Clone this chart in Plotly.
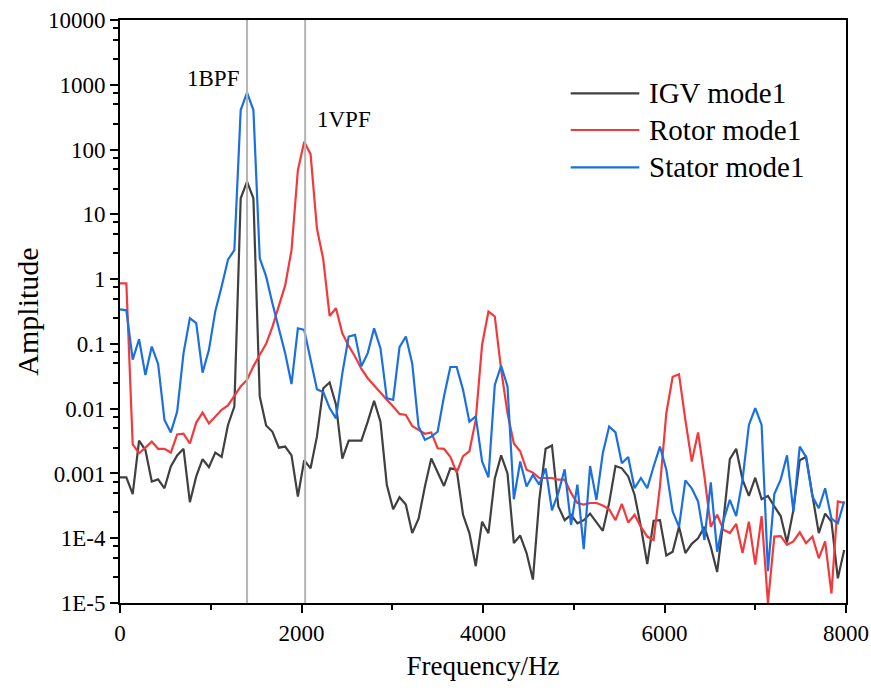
import plotly.graph_objects as go

# Frequency grid (Hz)
freq = [0, 70, 140, 210, 280, 350, 420, 490, 560, 630, 700, 770, 840, 910, 980,
        1050, 1120, 1190, 1260, 1330, 1400, 1470, 1540, 1610, 1680, 1750, 1820, 1890, 1960, 2030,
        2100, 2170, 2240, 2310, 2380, 2450, 2520, 2590, 2660, 2730, 2800, 2870, 2940, 3010, 3080,
        3150, 3220, 3290, 3360, 3430, 3500, 3570, 3640, 3710, 3780, 3850, 3920, 3990, 4060, 4130,
        4200, 4270, 4340, 4410, 4480, 4550, 4620, 4690, 4760, 4830, 4900, 4970, 5040, 5110, 5180,
        5250, 5320, 5390, 5460, 5530, 5600, 5670, 5740, 5810, 5880, 5950, 6020, 6090, 6160, 6230,
        6300, 6370, 6440, 6510, 6580, 6650, 6720, 6790, 6860, 6930, 7000, 7070, 7140, 7210, 7280,
        7350, 7420, 7490, 7560, 7630, 7700, 7770, 7840, 7910, 7980]

igv_mode1 = [8.7e-4, 8.7e-4, 4.8e-4, 3.2e-3, 2.3e-3, 7.5e-4, 8.1e-4, 5.9e-4, 1.28e-3, 1.9e-3,
             2.4e-3, 3.6e-4, 9e-4, 1.66e-3, 1.25e-3, 2.1e-3, 1.8e-3, 5.6e-3, 0.0108, 17.7,
             32, 17.7, 0.0154, 5.5e-3, 4.4e-3, 2.5e-3, 2.6e-3, 1.9e-3, 4.4e-4, 1.6e-3,
             1.2e-3, 3.7e-3, 0.0207, 0.0253, 0.0115, 1.7e-3, 3.2e-3, 3.2e-3, 3.2e-3, 6.3e-3,
             0.0132, 6.3e-3, 6.7e-4, 2.8e-4, 4.3e-4, 3.3e-4, 1.2e-4, 2e-4, 6.3e-4, 1.7e-3,
             1.07e-3, 6.4e-4, 1.2e-3, 1.14e-3, 2.3e-4, 1.2e-4, 3.7e-5, 1.8e-4, 1.2e-4, 8.4e-4,
             1.9e-3, 1e-3, 8.4e-5, 1.1e-4, 5.9e-5, 2.3e-5, 3.9e-4, 2.4e-3, 2.7e-3, 3.1e-4,
             1.9e-4, 2.3e-4, 1.7e-4, 1.9e-4, 2.4e-4, 1.8e-4, 1.3e-4, 3.5e-4, 1.3e-3, 1.2e-3,
             9e-4, 4.7e-4, 1.5e-4, 4e-5, 1.86e-4, 1.9e-4, 5.4e-5, 6.2e-5, 1.5e-4, 5.9e-5,
             8.2e-5, 1e-4, 1.5e-4, 7.4e-5, 3e-5, 1.9e-4, 1.66e-3, 2.4e-3, 8e-4, 4.5e-4,
             8.6e-4, 4e-4, 4.5e-4, 3.1e-4, 2.2e-4, 8.6e-5, 2.7e-4, 1.6e-3, 1.8e-3, 4.6e-4,
             1.2e-4, 2.4e-4, 1.8e-4, 2.4e-5, 6.6e-5]

rotor_mode1 = [0.86, 0.86, 2.8e-3, 2.05e-3, 2.5e-3, 3.1e-3, 2.4e-3, 2.4e-3, 2.1e-3, 4e-3,
               4.1e-3, 2.9e-3, 6.1e-3, 8.7e-3, 5.9e-3, 7.6e-3, 9.6e-3, 0.0112, 0.0154, 0.022,
               0.028, 0.045, 0.068, 0.1, 0.185, 0.38, 0.8, 2.8, 48, 132,
               85, 6.1, 2.0, 0.27, 0.355, 0.146, 0.093, 0.064, 0.041, 0.0295,
               0.0228, 0.0173, 0.0137, 0.0108, 8.3e-3, 8e-3, 5.4e-3, 4.7e-3, 4.1e-3, 4.3e-3,
               2.45e-3, 2.4e-3, 1.8e-3, 1.03e-3, 1.85e-3, 2.2e-3, 6.7e-3, 0.097, 0.316, 0.265,
               0.04, 8.5e-3, 2.9e-3, 2.2e-3, 1.14e-3, 1.03e-3, 8.5e-4, 8.5e-4, 8.5e-4, 8e-4,
               8e-4, 5e-4, 3.5e-4, 3.3e-4, 3.5e-4, 3.5e-4, 3.2e-4, 2.8e-4, 1.9e-4, 3.4e-4,
               1.75e-4, 2.3e-4, 1.5e-4, 1.06e-4, 9.4e-5, 6.3e-4, 8.5e-3, 0.031, 0.034, 6.7e-3,
               1.53e-3, 4.3e-3, 9e-4, 1.5e-4, 2.3e-4, 1.35e-4, 1.2e-4, 1.67e-4, 5.9e-5, 1.8e-4,
               3.9e-5, 2.2e-4, 1e-5, 1.06e-4, 1.08e-4, 7.9e-5, 8.9e-5, 1.23e-4, 8.4e-5, 1.06e-4,
               4.9e-5, 8.9e-5, 1.4e-5, 3.7e-4, 3.5e-4]

stator_mode1 = [0.34, 0.33, 0.057, 0.118, 0.033, 0.091, 0.049, 6.7e-3, 4.3e-3, 9e-3,
                0.072, 0.25, 0.21, 0.036, 0.081, 0.32, 0.77, 2.0, 2.8, 408,
                755, 408, 2.1, 1.1, 0.42, 0.17, 0.072, 0.024, 0.174, 0.164,
                0.057, 0.02, 0.018, 0.0102, 7.1e-3, 0.035, 0.13, 0.138, 0.045, 0.072,
                0.174, 0.086, 0.0145, 0.0137, 0.089, 0.13, 0.05, 5.3e-3, 3.3e-3, 3.7e-3,
                4.4e-3, 0.0154, 0.044, 0.044, 0.0195, 6.3e-3, 7.6e-3, 1.53e-3, 8.7e-4, 0.0233,
                0.046, 0.022, 4e-4, 1.53e-3, 6.3e-4, 9.5e-4, 6.7e-4, 1.2e-3, 2.7e-4, 5e-4,
                1.16e-3, 1.6e-4, 6.7e-4, 6.8e-5, 1.3e-3, 3.9e-4, 2.05e-3, 5.3e-3, 4.3e-3, 1.44e-3,
                1.8e-3, 5.9e-4, 8.5e-4, 5.9e-4, 1.28e-3, 2.6e-3, 1.14e-3, 2.6e-4, 1.5e-4, 7.8e-4,
                5.9e-4, 3.7e-4, 9.4e-5, 7.3e-4, 6.2e-5, 1.9e-4, 3.9e-4, 2.2e-4, 8e-4, 5.6e-3,
                0.0102, 5.6e-3, 3.1e-5, 4.8e-4, 8e-4, 1.9e-3, 2.6e-4, 2.6e-3, 1.8e-3, 4.4e-4,
                2.9e-4, 5.9e-4, 2e-4, 1.7e-4, 3.7e-4]

series_names = ["IGV mode1", "Rotor mode1", "Stator mode1"]
series_colors = ["#404040", "#f23a3c", "#1c6fe0"]

marker_freqs = [1400, 2040]
marker_labels = ["1BPF", "1VPF"]

x_ticks = [0, 2000, 4000, 6000, 8000]
y_tickvals = [1e-5, 1e-4, 1e-3, 1e-2, 1e-1, 1, 10, 100, 1000, 10000]
y_ticktext = ["1E-5", "1E-4", "0.001", "0.01", "0.1", "1", "10", "100", "1000", "10000"]

FONT = "Liberation Serif, Times New Roman, serif"

fig = go.Figure()
for name, vals, col in zip(series_names, [igv_mode1, rotor_mode1, stator_mode1], series_colors):
    fig.add_trace(go.Scatter(x=freq, y=vals, mode="lines", name=name,
                             line=dict(color=col, width=2.2), showlegend=False))

# reference frequency lines and labels
for f, lab, anchor, shift, ypos in zip(marker_freqs, marker_labels,
                                        ["right", "left"], [-6, 10], [0.9005, 0.829]):
    fig.add_shape(type="line", xref="x", yref="paper", x0=f, x1=f, y0=0, y1=1,
                  line=dict(color="#b4b4b4", width=2), layer="above")
    fig.add_annotation(x=f, xref="x", y=ypos, yref="paper", text=lab, showarrow=False,
                       xanchor=anchor, yanchor="middle", xshift=shift,
                       font=dict(family=FONT, size=23, color="black"))

# custom legend (long line samples like the original)
leg_y = [0.8743, 0.8113, 0.7473]
for name, col, yy in zip(series_names, series_colors, leg_y):
    fig.add_shape(type="line", xref="paper", yref="paper", x0=0.6208, x1=0.7153,
                  y0=yy, y1=yy, line=dict(color=col, width=2.2))
    fig.add_annotation(x=0.7263, xref="paper", y=yy, yref="paper", text=name,
                       showarrow=False, xanchor="left", yanchor="middle",
                       font=dict(family=FONT, size=29, color="black"))

minor_y = [m * 10.0 ** k for k in range(-5, 4) for m in (2.5, 5, 7.5)]

fig.update_xaxes(range=[0, 8000], tickvals=x_ticks, ticks="outside", ticklen=8, tickwidth=2,
                 tickcolor="black", showline=True, linewidth=2, linecolor="black", mirror=True,
                 showgrid=False, zeroline=False, automargin=False,
                 minor=dict(tickvals=[1000, 3000, 5000, 7000], ticks="outside", ticklen=5,
                            tickwidth=2, tickcolor="black", showgrid=False),
                 tickfont=dict(family=FONT, size=23, color="black"),
                 title=dict(text="Frequency/Hz", font=dict(family=FONT, size=27, color="black"),
                            standoff=12))
fig.update_yaxes(type="log", range=[-5, 4], tickvals=y_tickvals, ticktext=y_ticktext,
                 ticks="outside", ticklen=8, tickwidth=2, tickcolor="black",
                 showline=True, linewidth=2, linecolor="black", mirror=True,
                 showgrid=False, zeroline=False, automargin=False,
                 minor=dict(tickvals=minor_y, ticks="outside", ticklen=5, tickwidth=2,
                            tickcolor="black", showgrid=False),
                 tickfont=dict(family=FONT, size=23, color="black"),
                 title=dict(text="Amplitude", font=dict(family=FONT, size=30, color="black"),
                            standoff=0))

fig.update_layout(width=871, height=690, margin=dict(l=120, r=25, t=20, b=87),
                  plot_bgcolor="white", paper_bgcolor="white", showlegend=False)

fig.write_html("out.html")
